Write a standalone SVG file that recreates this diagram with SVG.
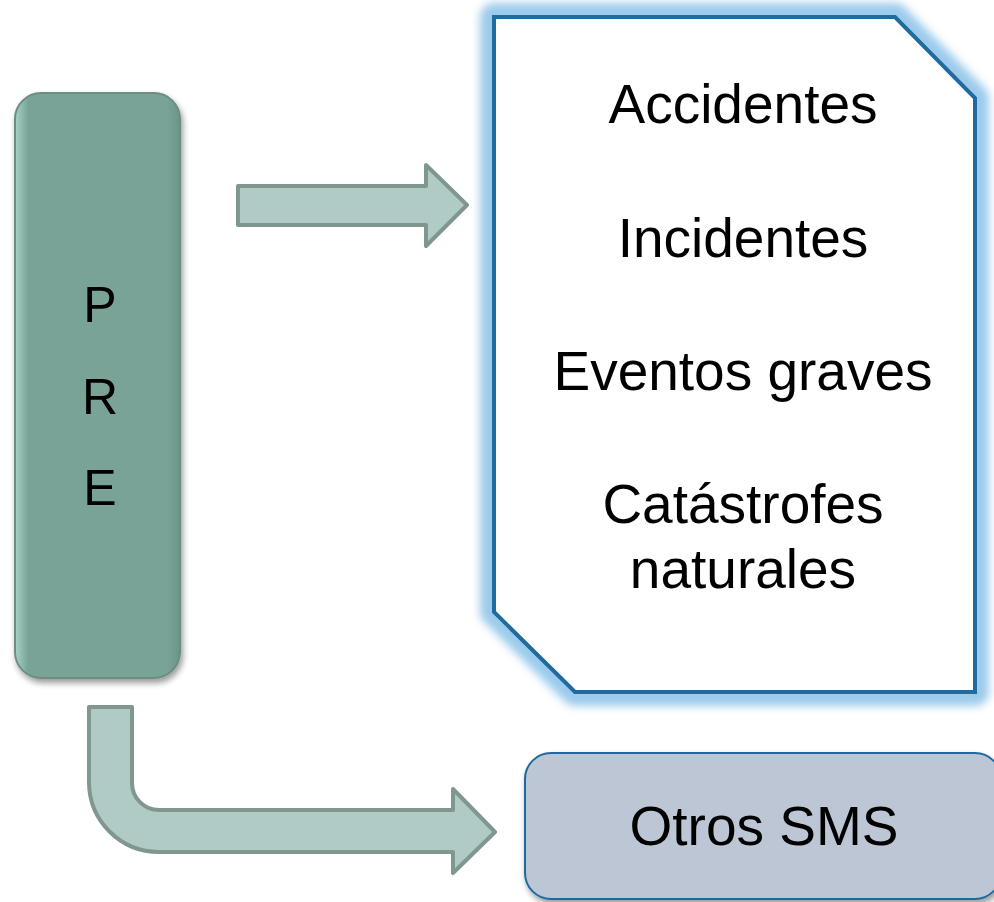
<svg xmlns="http://www.w3.org/2000/svg" width="994" height="902" viewBox="0 0 994 902">
<style>
.t{font-family:"Liberation Sans","Open Sans",Arial,sans-serif;font-size:55px;fill:#000;text-anchor:middle}
.p{font-family:"Liberation Sans","Open Sans",Arial,sans-serif;font-size:50px;fill:#000;text-anchor:middle}
.arrow{fill:#b0cbc5;stroke:#7f978f;stroke-width:4;stroke-linejoin:round}
</style>
<defs>
<filter id="glow" x="-10%" y="-10%" width="120%" height="120%">
<feGaussianBlur stdDeviation="4"/>
</filter>
<filter id="shadow" x="-10%" y="-10%" width="130%" height="130%">
<feGaussianBlur in="SourceAlpha" stdDeviation="3"/>
<feOffset dx="2" dy="4"/>
<feComponentTransfer><feFuncA type="linear" slope="0.4"/></feComponentTransfer>
<feMerge><feMergeNode/><feMergeNode in="SourceGraphic"/></feMerge>
</filter>
<linearGradient id="bev" x1="0" y1="0" x2="1" y2="0">
<stop offset="0" stop-color="#a9d2c6"/>
<stop offset="0.08" stop-color="#7aa397"/>
<stop offset="0.92" stop-color="#7aa397"/>
<stop offset="1" stop-color="#6c9488"/>
</linearGradient>
</defs>
<g id="connectors">
<path class="arrow" d="M238,186 H426 V165 L467,205 L426,246 V225 H238 Z"/>
<path class="arrow" d="M89,707 H132 V783 A27,27 0 0 0 159,810 H453 V789 L495,832 L453,873 V852 H159 A70,70 0 0 1 89,782 Z"/>
</g>
<g id="pre">
<rect x="15" y="93" width="165" height="585" rx="26" fill="url(#bev)" stroke="#6e8c84" stroke-width="2" filter="url(#shadow)"/>
<text class="p" x="100" y="322">P</text>
<text class="p" x="100" y="414">R</text>
<text class="p" x="100" y="505">E</text>
</g>
<g id="events">
<path d="M494,17 H895 L975,98 V692 H575 L494,612 Z" fill="none" stroke="#9ccbec" stroke-width="28" stroke-linejoin="round" filter="url(#glow)"/>
<path d="M494,17 H895 L975,98 V692 H575 L494,612 Z" fill="#fff" stroke="#1f6a9e" stroke-width="4"/>
<text class="t" x="743" y="123">Accidentes</text>
<text class="t" x="743" y="257">Incidentes</text>
<text class="t" x="743" y="390">Eventos graves</text>
<text class="t" x="743" y="523">Catástrofes</text>
<text class="t" x="743" y="588">naturales</text>
</g>
<g id="otros">
<rect x="525" y="753" width="476" height="146" rx="26" fill="#bcc6d4" stroke="#1f6a9e" stroke-width="2" filter="url(#shadow)"/>
<text class="t" x="764" y="845">Otros SMS</text>
</g>
</svg>
